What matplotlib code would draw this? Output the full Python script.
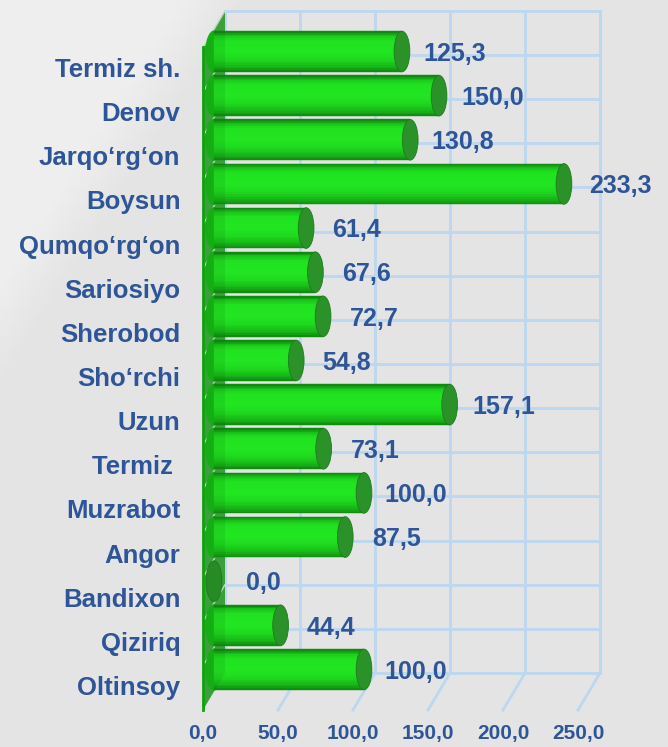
import numpy as np
import matplotlib.pyplot as plt
from matplotlib.patches import Ellipse, Polygon
from matplotlib.colors import LinearSegmentedColormap

categories = ["Termiz sh.", "Denov", "Jarqo‘rg‘on", "Boysun", "Qumqo‘rg‘on", "Sariosiyo",
              "Sherobod", "Sho‘rchi", "Uzun", "Termiz ", "Muzrabot", "Angor",
              "Bandixon", "Qiziriq", "Oltinsoy"]
values = [125.3, 150.0, 130.8, 233.3, 61.4, 67.6, 72.7, 54.8, 157.1, 73.1,
          100.0, 87.5, 0.0, 44.4, 100.0]
ticks = [0, 50, 100, 150, 200, 250]
tick_labels = ["0,0", "50,0", "100,0", "150,0", "200,0", "250,0"]

TEXT = "#2e5597"
GRID = "#bcd7f0"

# 3d look: offset between front plane and back wall
DX, DY = 14.7, 0.84
FLOOR = -0.5
BAR_H = 0.92
CAP_W = 10.5

n = len(categories)
ypos = np.arange(n)[::-1]  # first category at the top

fig = plt.figure(figsize=(6.68, 7.47), dpi=100)
fig.patch.set_facecolor("#e4e4e4")
ax = fig.add_axes([0, 0, 1, 1])
ax.set_facecolor("none")
ax.set_xlim(-135.3, 310)
ax.set_ylim(-1.337, 15.587)
ax.axis("off")

# soft light corner top-left
gx, gy = np.meshgrid(np.linspace(0, 1, 200), np.linspace(1, 0, 200))
d = gx / 0.32 + (1 - gy) / 0.45
bg = np.clip((1.15 - d) / 0.3, 0, 1)
bg_cmap = LinearSegmentedColormap.from_list("bg", ["#e4e4e4", "#eeeeef"])
ax.imshow(bg, cmap=bg_cmap, extent=[0, 1, 0, 1], transform=ax.transAxes,
          aspect="auto", zorder=0)

back_bot = FLOOR + DY
back_top = back_bot + n

# back wall grid
for t in ticks:
    ax.plot([t + DX, t + DX], [back_bot, back_top], color=GRID, lw=2, zorder=1)
for k in range(n + 1):
    ax.plot([DX, ticks[-1] + DX], [back_bot + k, back_bot + k], color=GRID, lw=2, zorder=1)
# floor lines
for t in ticks[1:]:
    ax.plot([t + DX, t], [back_bot, FLOOR], color=GRID, lw=2, zorder=1)

# left side wall
wall_top = FLOOR + n + 0.02
wall = [(0, FLOOR), (0, wall_top), (DX, wall_top + DY), (DX, back_bot)]
ax.add_patch(Polygon(wall, closed=True, facecolor="#42a842", edgecolor="none", zorder=2))
for k in range(1, n + 1):
    ax.plot([0, DX], [FLOOR + k, back_bot + k], color="#d6ecd6", lw=1, zorder=2.5)

# cylinders: body built from thin horizontal strips to get the shading
x0 = DX / 2
yc = ypos + DY / 2
body_cmap = LinearSegmentedColormap.from_list(
    "body", [(0, "#0f850f"), (0.12, "#17b417"), (0.3, "#1fd81f"), (0.5, "#22e622"),
             (0.78, "#21e221"), (0.9, "#1ac61a"), (0.96, "#139a13"), (1, "#0e7a0e")])
n_strips = 24
for v, y in zip(values, yc):
    if v > 0:
        ax.add_patch(Ellipse((x0, y), CAP_W, BAR_H, color="#16b816", zorder=3))
        for s in range(n_strips):
            f = (s + 0.5) / n_strips
            c = body_cmap(f)
            ax.barh(y - BAR_H / 2 + f * BAR_H, v, height=BAR_H / n_strips, left=x0,
                    color=c, edgecolor=c, lw=0.3, zorder=3)
    ax.add_patch(Ellipse((x0 + v, y), CAP_W, BAR_H, facecolor="#2a9229",
                         edgecolor="#1d7d1d", lw=0.6, zorder=4))

# translucent wall in front of bar roots
ax.add_patch(Polygon(wall, closed=True, facecolor="#0a600a", alpha=0.12,
                     edgecolor="none", zorder=5))
ax.plot([0, 0], [FLOOR, wall_top], color="#10a010", lw=2, zorder=6)

# value labels
for v, y in zip(values, yc):
    ax.text(v * 1.02 + 40, y - 0.05, f"{v:.1f}".replace(".", ","), color=TEXT,
            fontsize=18, fontweight="bold", ha="center", va="center",
            family="Liberation Sans", zorder=7)

# category labels
for c, y in zip(categories, ypos):
    ax.text(-15, y, c, color=TEXT, fontsize=18.5, fontweight="bold", ha="right",
            va="center", family="Liberation Sans", zorder=7)

# x tick labels
for t, lab in zip(ticks, tick_labels):
    ax.text(t, -1.02, lab, color=TEXT, fontsize=15, fontweight="bold", ha="center",
            va="center", family="Liberation Sans", zorder=7)

fig.savefig("out.png", dpi=100, facecolor=fig.get_facecolor())
